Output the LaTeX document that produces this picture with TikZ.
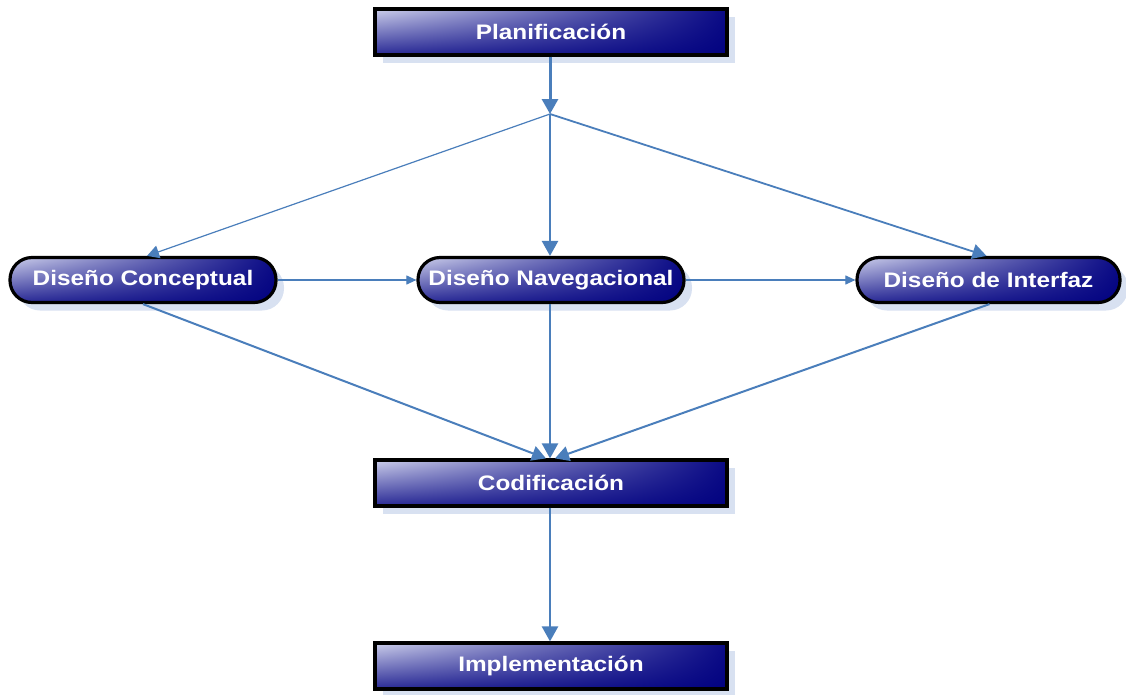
\documentclass[tikz,border=0pt]{standalone}
\usepackage{fontspec}
\setmainfont{Liberation Sans}
\newfontfamily\boxfont[FakeStretch=1.16]{Liberation Sans}
\usetikzlibrary{arrows.meta,shadows}
\definecolor{flowblue}{HTML}{4A7EBB}
\definecolor{shadowblue}{HTML}{D8E1F1}
% glossy fill: light lavender in the upper left corner, deep navy towards
% the right side and the lower edge
\pgfdeclarefunctionalshading{nodeshade}{\pgfpoint{0bp}{0bp}}{\pgfpoint{100bp}{100bp}}{}{
  25 sub 50 div
  exch 25 sub 50 div
  0.95 mul 1 exch sub dup 0 lt {pop 0} if
  exch 0.8 mul 0.2 add
  mul
  dup 1 gt {pop 1} if dup 0 lt {pop 0} if
  dup 0.80 mul exch dup 0.81 mul exch 0.42 mul 0.5 add
}
\tikzset{
  stage/.style={draw=black, line width=3.2pt, shading=nodeshade,
    text=white, font=\boxfont\fontsize{21}{24}\selectfont\bfseries,
    general shadow={fill=shadowblue, shadow xshift=8pt, shadow yshift=-8pt},
    inner sep=0pt},
  stagebox/.style={stage, rectangle, minimum width=352pt, minimum height=46pt},
  stagepill/.style={stage, rectangle, rounded corners=22pt, minimum height=45pt},
  flow/.style={draw=flowblue, -{Triangle[length=15pt,width=16pt]}},
  thinflow/.style={draw=flowblue, line width=1.1pt, -{Triangle[length=10pt,width=9pt]}},
}
\begin{document}
\begin{tikzpicture}[x=1pt,y=-1pt]
\useasboundingbox (0,0) rectangle (1126,694);
% process stages
\node[stagebox] (plan) at (551,32) {Planificación};
\node[stagepill, minimum width=266pt] (dc) at (143,280) {Diseño Conceptual};
\node[stagepill, minimum width=266pt] (dn) at (551,280) {Diseño Navegacional};
\node[stagepill, minimum width=263pt] (di) at (988.5,280) {Diseño de Interfaz};
\node[stagebox] (cod) at (551,483) {Codificación};
\node[stagebox] (impl) at (551,666) {Implementación};
% branching point below the planning stage
\coordinate (fork) at (550,114);
% connectors
\draw[flow, line width=3pt] ([xshift=-1pt]plan.south) -- (fork);
\draw[flowblue, line width=1.2pt, -{Triangle[length=12pt,width=13pt]}] (fork) -- ([xshift=4pt]dc.north);
\draw[flow, line width=2.5pt] (fork) -- ([xshift=-1pt]dn.north);
\draw[flowblue, line width=1.8pt, -{Triangle[length=14pt,width=15pt]}] (fork) -- ([xshift=-2pt]di.north);
\draw[thinflow] (dc.east) -- (dn.west);
\draw[thinflow] (dn.east) -- (di.west);
\draw[flowblue, line width=2pt, -{Triangle[length=14pt,width=15pt]}] (dc.south) -- ([xshift=-5pt]cod.north);
\draw[flow, line width=2.5pt] ([xshift=-1pt]dn.south) -- ([xshift=-1pt]cod.north);
\draw[flowblue, line width=2pt, -{Triangle[length=14pt,width=15pt]}] ([xshift=1pt]di.south) -- ([xshift=4pt]cod.north);
\draw[flow, line width=2.5pt] ([xshift=-1pt]cod.south) -- ([xshift=-1pt]impl.north);
\end{tikzpicture}
\end{document}
